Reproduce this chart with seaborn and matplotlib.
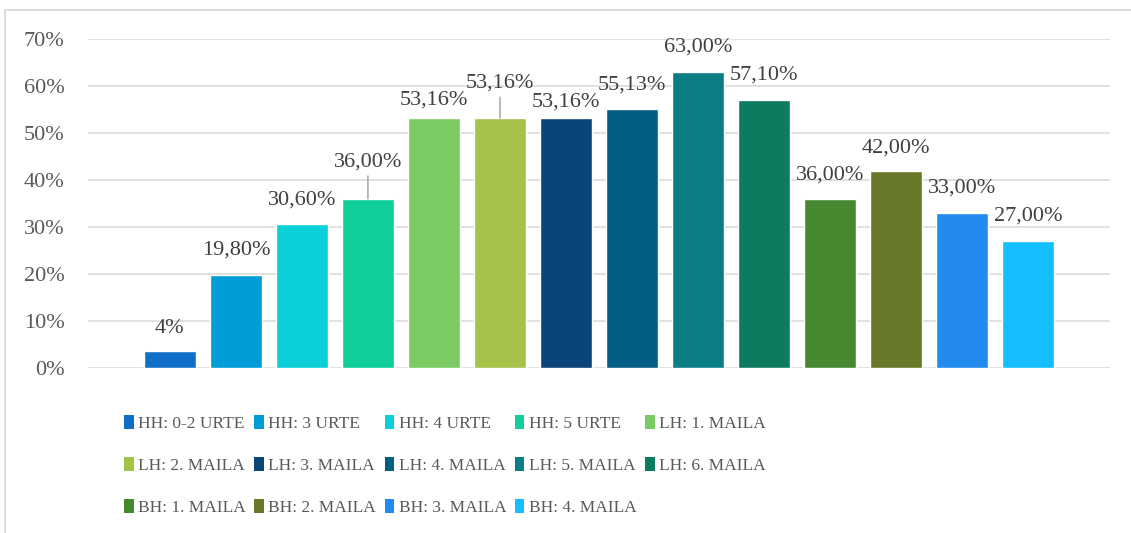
import matplotlib
matplotlib.use("Agg")
import matplotlib.pyplot as plt
import seaborn as sns
from matplotlib.patches import Patch, Rectangle
from matplotlib.ticker import PercentFormatter

# Données
kategoriak = ["HH: 0-2 URTE", "HH: 3 URTE", "HH: 4 URTE", "HH: 5 URTE",
              "LH: 1. MAILA", "LH: 2. MAILA", "LH: 3. MAILA", "LH: 4. MAILA",
              "LH: 5. MAILA", "LH: 6. MAILA",
              "BH: 1. MAILA", "BH: 2. MAILA", "BH: 3. MAILA", "BH: 4. MAILA"]
balioak = [0.036, 0.198, 0.306, 0.36, 0.5316, 0.5316, 0.5316, 0.5513,
           0.63, 0.571, 0.36, 0.42, 0.33, 0.27]
etiketak = ["4%", "19,80%", "30,60%", "36,00%", "53,16%", "53,16%", "53,16%",
            "55,13%", "63,00%", "57,10%", "36,00%", "42,00%", "33,00%", "27,00%"]
koloreak = ["#0F6FC6", "#009DD9", "#0BD0D9", "#10CF9B", "#7CCA62", "#A5C249",
            "#0B4479", "#045D82", "#0B7D84", "#0C7B5F", "#458830", "#677829",
            "#238BEE", "#15BFFF"]
# décalage vertical des étiquettes (px) et lignes de rappel
desplazamendua = [23, 25, 24, 37, 18, 35, 16, 24, 25, 25, 24, 23, 25, 25]
lerroa = [False, False, False, True, False, True, False, False,
          False, False, False, False, False, False]

sns.set_theme(style="white")
plt.rcParams["font.family"] = ["Liberation Serif", "DejaVu Serif"]

W, H = 1131, 533
fig = plt.figure(figsize=(W / 100, H / 100), dpi=100)
ax = fig.add_axes([88 / W, 1 - 368 / H, (1110 - 88) / W, (368 - 39) / H])

sns.barplot(x=kategoriak, y=balioak, hue=kategoriak, palette=koloreak,
            width=0.79, legend=False, ax=ax, saturation=1)

ax.set_xlim(-1.24, 13 + 1.24)
ax.set_ylim(0, 0.70)
ax.set_yticks([0, 0.1, 0.2, 0.3, 0.4, 0.5, 0.6, 0.7])
ax.yaxis.set_major_formatter(PercentFormatter(1.0, decimals=0))
ax.set_xticks([])
ax.set_xlabel("")
ax.set_ylabel("")
ax.tick_params(axis="y", length=0, pad=17, labelsize=16, labelcolor="#595959")
ax.grid(axis="y", color="#d9d9d9", lw=1.1)
ax.set_axisbelow(True)
sns.despine(ax=ax, left=True, bottom=True)

# Étiquettes de données
for i, (v, t) in enumerate(zip(balioak, etiketak)):
    kw = {}
    if lerroa[i]:
        kw["arrowprops"] = dict(arrowstyle="-", color="#a6a6a6", lw=1.1,
                                shrinkA=1, shrinkB=0)
    ax.annotate(t, xy=(i, v), xytext=(0, desplazamendua[i] * 0.72),
                textcoords="offset points", ha="center", va="center",
                fontsize=16, color="#404040", annotation_clip=False, **kw)

# Légende (remplissage par lignes)
ncol = 5
ordena = [j + k * ncol for j in range(ncol) for k in range(3)
          if j + k * ncol < len(kategoriak)]
eskuak = [Patch(facecolor=koloreak[i], edgecolor="none") for i in ordena]
izenak = [kategoriak[i] for i in ordena]
fig.legend(eskuak, izenak, loc="upper left",
           bbox_to_anchor=(124 / W, 1 - 415 / H), ncol=ncol, frameon=False,
           fontsize=12.5, labelcolor="#595959", handlelength=0.55,
           handleheight=0.85, handletextpad=0.25, columnspacing=0.5,
           labelspacing=1.45, borderpad=0, borderaxespad=0)

# Cadre
fig.patches.append(Rectangle((5 / W, -0.5), 2, 0.5 + 1 - 10 / H,
                             transform=fig.transFigure, fill=False,
                             edgecolor="#d9d9d9", lw=1.3))

fig.savefig("out.png", dpi=100)
